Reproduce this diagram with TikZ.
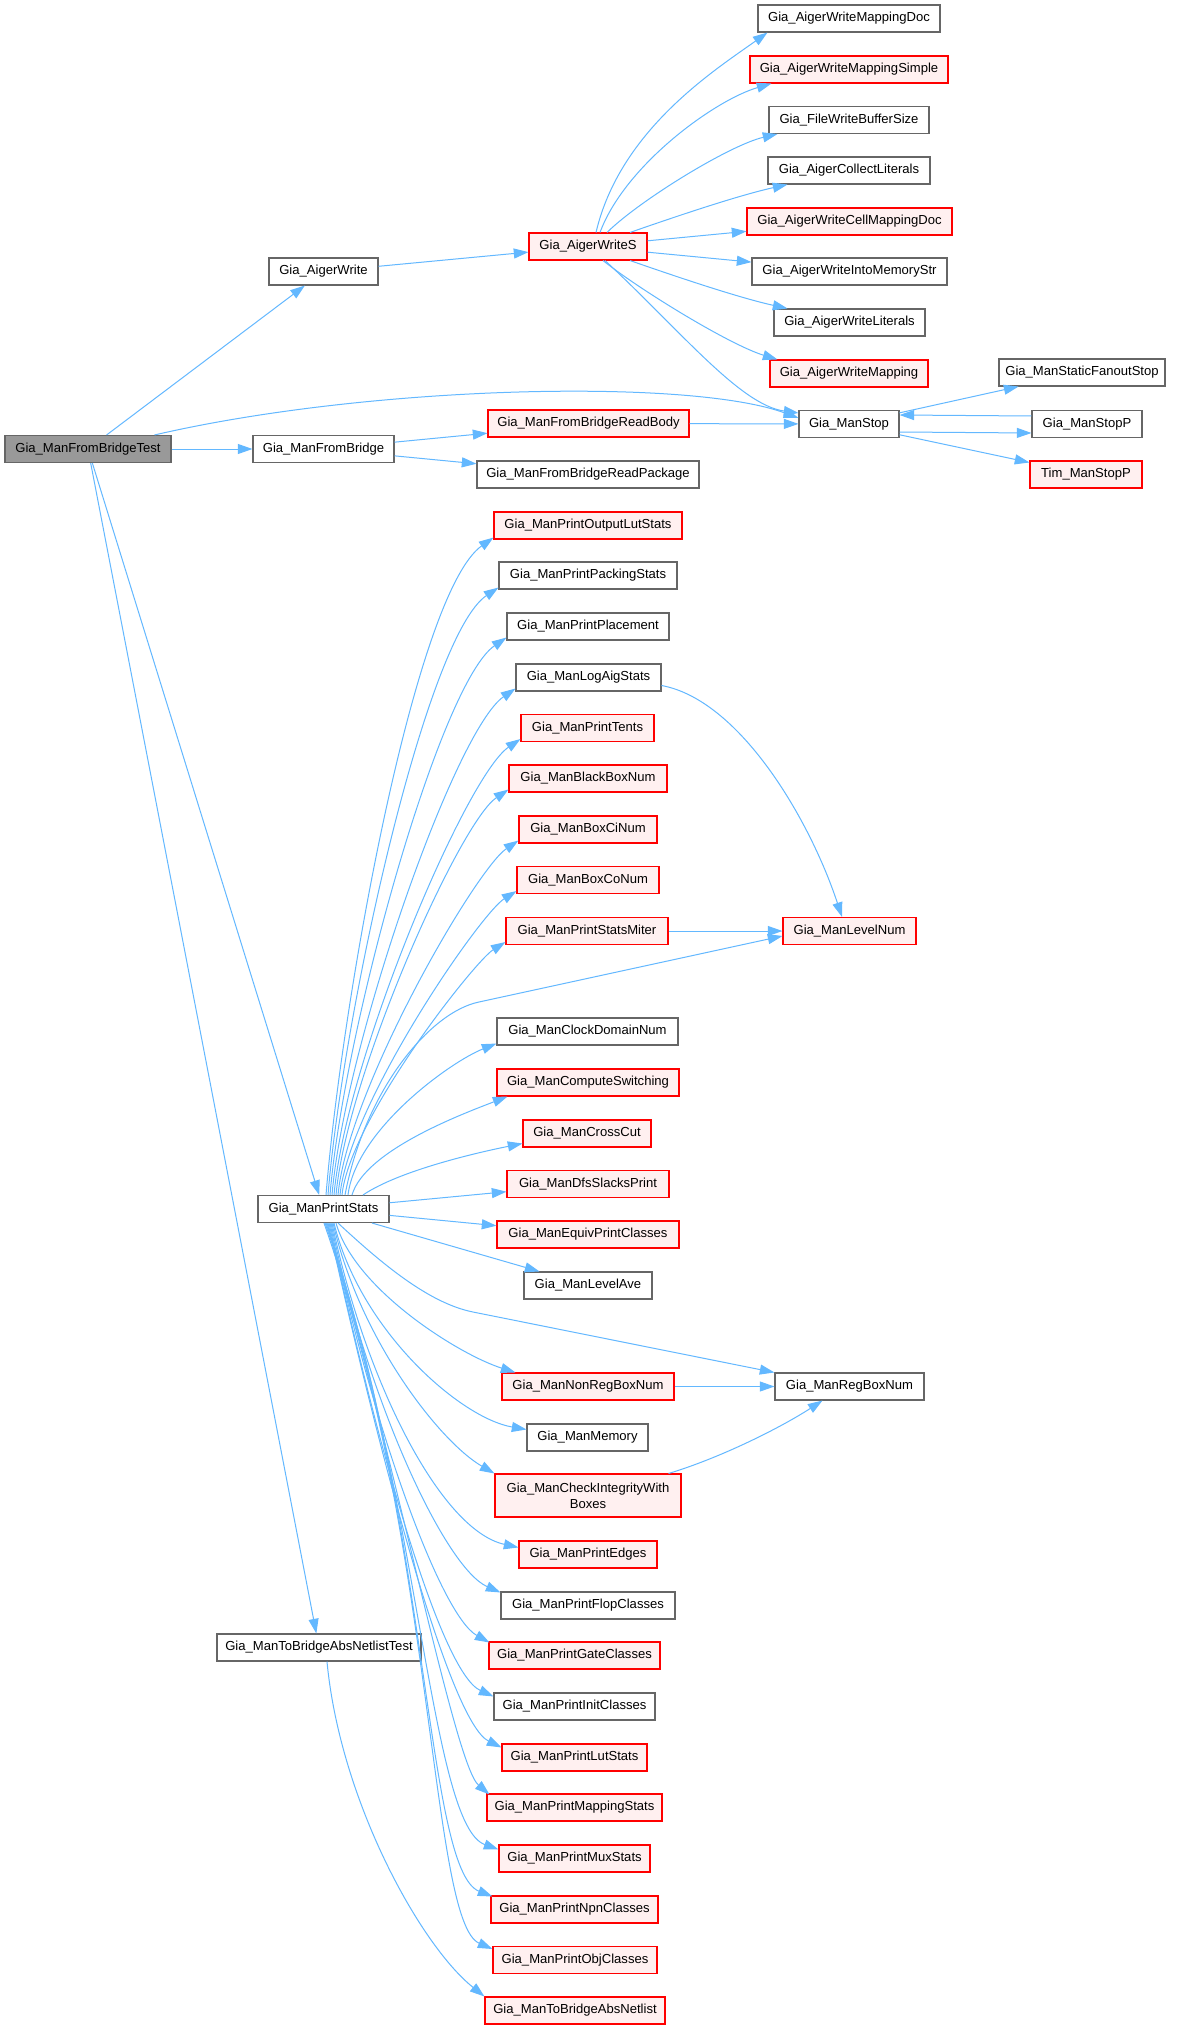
\documentclass[tikz,border=0pt]{standalone}
\usepackage{fontspec}
\setmainfont{Liberation Sans}
\usetikzlibrary{arrows.meta,calc}
\definecolor{edgeblue}{HTML}{63B8FF}
\definecolor{gborder}{HTML}{666666}
\definecolor{redfill}{HTML}{FFF0F0}
\definecolor{rootfill}{HTML}{999999}
\newcommand\mkbox[6]{\node[#1, minimum width={(#4-#3)*0.75pt}] (#2) at ({(#3+#4)/2},#5) {#6};}
\begin{document}
\begin{tikzpicture}[x=0.75pt,y=-0.75pt,
  box/.style={draw=gborder, fill=white, line width=0.8pt, minimum height=27*0.75pt, inner sep=0pt, font=\fontsize{9.8}{11.5}\selectfont},
  redbox/.style={box, draw=red, fill=redfill},
  rootbox/.style={box, fill=rootfill},
  edge/.style={draw=edgeblue, line width=0.75pt, -{Triangle[length=11pt,width=7.5pt]}}]
\useasboundingbox (0,0) rectangle (1179,2029);
\fill[white] (0,0) rectangle (1179,2029);

\mkbox{rootbox}{root}{5}{171}{449}{Gia\_ManFromBridgeTest}
\mkbox{box}{aw}{269}{378}{271.5}{Gia\_AigerWrite}
\mkbox{box}{mfb}{253}{394}{449}{Gia\_ManFromBridge}
\mkbox{redbox}{aws}{529}{647}{246.5}{Gia\_AigerWriteS}
\mkbox{box}{wmd}{758}{940}{18.5}{Gia\_AigerWriteMappingDoc}
\mkbox{redbox}{wms}{750}{948}{69.5}{Gia\_AigerWriteMappingSimple}
\mkbox{box}{fwb}{769}{929}{120}{Gia\_FileWriteBufferSize}
\mkbox{box}{acl}{768}{930}{170.5}{Gia\_AigerCollectLiterals}
\mkbox{redbox}{wcmd}{747}{952}{221.5}{Gia\_AigerWriteCellMappingDoc}
\mkbox{box}{wims}{752}{947}{271.5}{Gia\_AigerWriteIntoMemoryStr}
\mkbox{box}{wlit}{774}{925}{322.5}{Gia\_AigerWriteLiterals}
\mkbox{redbox}{wmap}{770}{928}{373.5}{Gia\_AigerWriteMapping}
\mkbox{redbox}{rbody}{488}{689}{423.5}{Gia\_ManFromBridgeReadBody}
\mkbox{box}{rpack}{477}{699}{474.5}{Gia\_ManFromBridgeReadPackage}
\mkbox{box}{mstop}{799}{899}{424}{Gia\_ManStop}
\mkbox{box}{sfs}{999}{1165}{372.5}{Gia\_ManStaticFanoutStop}
\mkbox{box}{stopp}{1032}{1142}{424}{Gia\_ManStopP}
\mkbox{redbox}{tim}{1030}{1142}{474.5}{Tim\_ManStopP}
\mkbox{box}{ps}{258}{389}{1209}{Gia\_ManPrintStats}
\mkbox{box}{tbtest}{217}{421}{1647.5}{Gia\_ManToBridgeAbsNetlistTest}
\mkbox{redbox}{olut}{494}{682}{525.5}{Gia\_ManPrintOutputLutStats}
\mkbox{box}{pack}{499}{677}{575.5}{Gia\_ManPrintPackingStats}
\mkbox{box}{place}{507}{669}{626.5}{Gia\_ManPrintPlacement}
\mkbox{box}{logaig}{516}{661}{677.5}{Gia\_ManLogAigStats}
\mkbox{redbox}{tents}{521}{654}{728}{Gia\_ManPrintTents}
\mkbox{redbox}{bbox}{509}{667}{778.5}{Gia\_ManBlackBoxNum}
\mkbox{redbox}{boxci}{519}{657}{829.5}{Gia\_ManBoxCiNum}
\mkbox{redbox}{boxco}{517}{659}{880}{Gia\_ManBoxCoNum}
\mkbox{redbox}{miter}{506}{668}{931}{Gia\_ManPrintStatsMiter}
\mkbox{redbox}{levelnum}{783}{916}{931}{Gia\_ManLevelNum}
\mkbox{box}{clock}{497}{678}{1031.5}{Gia\_ManClockDomainNum}
\mkbox{redbox}{compsw}{497}{679}{1082.5}{Gia\_ManComputeSwitching}
\mkbox{redbox}{crosscut}{523}{651}{1133.5}{Gia\_ManCrossCut}
\mkbox{redbox}{dfs}{507}{669}{1184}{Gia\_ManDfsSlacksPrint}
\mkbox{redbox}{equiv}{497}{679}{1234.5}{Gia\_ManEquivPrintClasses}
\mkbox{box}{levelave}{524}{652}{1285.5}{Gia\_ManLevelAve}
\mkbox{redbox}{nonreg}{502}{674}{1386.5}{Gia\_ManNonRegBoxNum}
\mkbox{box}{regbox}{775}{924}{1386.5}{Gia\_ManRegBoxNum}
\mkbox{box}{memory}{527}{648}{1437.5}{Gia\_ManMemory}
\node[redbox, minimum width={(681-495)*0.75pt}, minimum height=43*0.75pt, align=center, font=\fontsize{9.8}{12}\selectfont] (check) at (588,1495.5) {Gia\_ManCheckIntegrityWith\\Boxes};
\mkbox{redbox}{edges}{519}{657}{1554.5}{Gia\_ManPrintEdges}
\mkbox{box}{flop}{501}{675}{1605.5}{Gia\_ManPrintFlopClasses}
\mkbox{redbox}{gate}{489}{660}{1655.5}{Gia\_ManPrintGateClasses}
\mkbox{box}{init}{494}{655}{1706.5}{Gia\_ManPrintInitClasses}
\mkbox{redbox}{lut}{502}{647}{1757.5}{Gia\_ManPrintLutStats}
\mkbox{redbox}{mapst}{487}{662}{1807.5}{Gia\_ManPrintMappingStats}
\mkbox{redbox}{mux}{499}{650}{1858.5}{Gia\_ManPrintMuxStats}
\mkbox{redbox}{npn}{491}{658}{1909.5}{Gia\_ManPrintNpnClasses}
\mkbox{redbox}{obj}{493}{657}{1960}{Gia\_ManPrintObjClasses}
\mkbox{redbox}{tbnet}{485}{665}{2010.5}{Gia\_ManToBridgeAbsNetlist}

% top part
\draw[edge] (root) -- (aw);
\draw[edge] ($(root.north east)+(-17,0)$) .. controls (370,385) and (690,378) .. ($(mstop.west)+(0,-6)$);
\draw[edge] (root) -- (mfb);
\draw[edge] (root) -- (ps);
\draw[edge] (root) -- (tbtest);
\draw[edge] (aw) -- (aws);
\draw[edge] ($(aws.north)+(8,0)$) .. controls (620,130) and (715,70) .. ($(wmd.south west)+(10,0)$);
\draw[edge] ($(aws.north)+(12,0)$) .. controls (625,165) and (715,100) .. ($(wms.south west)+(22,0)$);
\draw[edge] ($(aws.north)+(19,0)$) .. controls (640,200) and (730,145) .. ($(fwb.south west)+(9,0)$);
\draw[edge] ($(aws.north)+(42,0)$) .. controls (680,215) and (740,195) .. ($(acl.south west)+(20,0)$);
\draw[edge] (aws) -- (wcmd);
\draw[edge] (aws) -- (wims);
\draw[edge] ($(aws.south)+(42,0)$) .. controls (680,278) and (740,298) .. ($(wlit.north west)+(14,0)$);
\draw[edge] ($(aws.south)+(15,0)$) .. controls (640,290) and (730,345) .. ($(wmap.north west)+(8,0)$);
\draw[edge] ($(aws.south)+(17,0)$) .. controls (680,330) and (740,405) .. ($(mstop.west)+(0,-11)$);
\draw[edge] (mfb) -- (rbody);
\draw[edge] (mfb) -- (rpack);
\draw[edge] (rbody) -- (mstop);
\draw[edge] (mstop) -- (sfs);
\draw[edge] ($(stopp.west)+(0,-8)$) -- ($(mstop.east)+(0,-9)$);
\draw[edge] ($(mstop.east)+(0,8)$) -- ($(stopp.west)+(0,9)$);
\draw[edge] (mstop) -- (tim);

% upper fan of PrintStats
\draw[edge] ($(ps.north)+(2.5,0)$) .. controls (342,999) and (415,593) .. ($(olut.south west)+(0,-2)$);
\draw[edge] ($(ps.north)+(4.5,0)$) .. controls (343,1013) and (426,636) .. ($(pack.south west)+(0,-2)$);
\draw[edge] ($(ps.north)+(6.5,0)$) .. controls (344,1028) and (440,683) .. ($(place.south west)+(0,-3)$);
\draw[edge] ($(ps.north)+(8.5,0)$) .. controls (345,1044) and (455,730) .. ($(logaig.south west)+(0,-3)$);
\draw[edge] ($(ps.north)+(10.5,0)$) .. controls (346,1059) and (466,776) .. ($(tents.south west)+(0,-3)$);
\draw[edge] ($(ps.north)+(12.5,0)$) .. controls (347,1074) and (460,822) .. ($(bbox.south west)+(0,-3)$);
\draw[edge] ($(ps.north)+(14.5,0)$) .. controls (348,1089) and (476,869) .. ($(boxci.south west)+(0,-3)$);
\draw[edge] ($(ps.north)+(16.5,0)$) .. controls (349,1104) and (480,914) .. ($(boxco.south west)+(0,-3)$);
\draw[edge] ($(ps.north)+(18.5,0)$) .. controls (350,1119) and (475,961) .. ($(miter.south west)+(0,-3)$);
\draw[edge] ($(ps.north)+(21.5,0)$) .. controls (365,1090) and (430,1012) .. (479,1002) -- ($(levelnum.west)+(0,5)$);
\draw[edge] ($(ps.north)+(24.5,0)$) .. controls (356,1130) and (450,1062) .. ($(clock.south west)+(0,-2)$);
\draw[edge] ($(ps.north)+(28.5,0)$) .. controls (365,1150) and (465,1113) .. ($(compsw.south west)+(11,0)$);
\draw[edge] ($(ps.north)+(39.5,0)$) .. controls (400,1170) and (480,1152) .. ($(crosscut.west)+(0,10)$);
\draw[edge] (ps) -- (dfs);
\draw[edge] (ps) -- (equiv);
\draw[edge] (ps) -- (levelave);

% lower fan of PrintStats
\draw[edge] ($(ps.south)+(14.5,0)$) .. controls (380,1262) and (428,1303) .. (473,1312) -- (regbox.north west);
\draw[edge] ($(ps.south)+(12.5,0)$) .. controls (355,1290) and (460,1355) .. ($(nonreg.north west)+(14,0)$);
\draw[edge] ($(ps.south)+(10.5,0)$) .. controls (360,1330) and (460,1418) .. ($(memory.north west)+(0,6)$);
\draw[edge] ($(ps.south)+(9.5,0)$) .. controls (360,1340) and (440,1442) .. (check.north west);
\draw[edge] ($(ps.south)+(8.5,0)$) .. controls (365,1380) and (440,1530) .. ($(edges.north west)+(0,7)$);
\draw[edge] ($(ps.south)+(7.5,0)$) .. controls (367,1400) and (445,1568) .. ($(flop.north west)+(0,1)$);
\draw[edge] ($(ps.south)+(6.5,0)$) .. controls (370,1420) and (440,1615) .. ($(gate.north west)+(1,1)$);
\draw[edge] ($(ps.south)+(5.5,0)$) .. controls (375,1440) and (440,1672) .. ($(init.north west)+(0,4)$);
\draw[edge] ($(ps.south)+(4.5,0)$) .. controls (380,1460) and (450,1722) .. ($(lut.north west)+(0,4)$);
\draw[edge] ($(ps.south)+(3.5,0)$) .. controls (400,1480) and (455,1765) .. ($(mapst.north west)+(3,1)$);
\draw[edge] ($(ps.south)+(2.5,0)$) .. controls (420,1500) and (430,1825) .. ($(mux.north west)+(0,5)$);
\draw[edge] ($(ps.south)+(1.5,0)$) .. controls (430,1520) and (425,1870) .. ($(npn.north west)+(2,1)$);
\draw[edge] ($(ps.south)+(0.5,0)$) .. controls (435,1540) and (430,1922) .. ($(obj.north west)+(0,3)$);
\draw[edge] ($(tbtest.south)+(8,0)$) .. controls (340,1800) and (420,1945) .. (tbnet.north west);

% cross links
\draw[edge] ($(logaig.east)+(0,8)$) .. controls (740,700) and (810,820) .. ($(levelnum.north)+(-7.5,0)$);
\draw[edge] (miter) -- (levelnum);
\draw[edge] (nonreg) -- (regbox);
\draw[edge] ($(check.north east)+(-13,0)$) .. controls (720,1458) and (780,1428) .. ($(regbox.south)+(-27,0)$);
\end{tikzpicture}
\end{document}
